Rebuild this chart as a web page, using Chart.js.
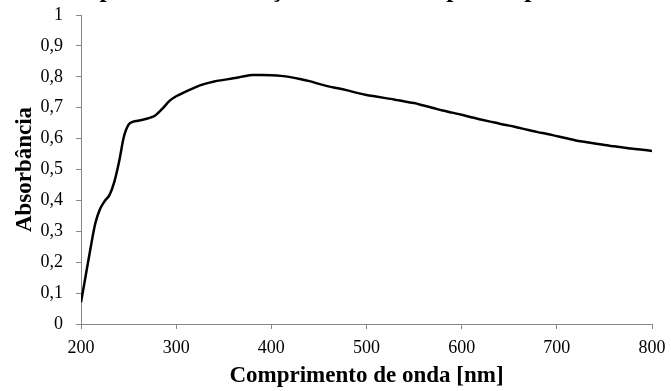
<!DOCTYPE html>
<html>
<head>
<meta charset="utf-8">
<script src="https://cdn.jsdelivr.net/npm/chart.js@4/dist/chart.umd.min.js"></script>
<style>
  html, body { margin: 0; padding: 0; background: #fff; }
  #wrap { width: 671px; height: 391px; }
</style>
</head>
<body>
<div id="wrap"><canvas id="absChart" width="671" height="391"></canvas></div>
<script>
/* ── DATA ────────────────────────────────────────────────── */
const wavelengths = [
  200, 204, 210, 215, 220, 225, 230, 235, 240, 245, 250, 255, 260, 270, 278,
  285, 293, 300, 310, 320, 330, 340, 350, 360, 370, 380, 390, 400, 410, 420,
  430, 440, 450, 460, 470, 480, 490, 500, 510, 520, 530, 540, 550, 560, 570,
  580, 590, 600, 610, 620, 630, 640, 650, 660, 670, 680, 690, 700, 710, 720,
  730, 740, 750, 760, 770, 780, 790, 800
];
const absorbance = [
  0.070, 0.140, 0.245, 0.325, 0.372, 0.398, 0.418, 0.460, 0.525, 0.605, 0.645, 0.655, 0.658, 0.665, 0.675,
  0.695, 0.722, 0.737, 0.752, 0.766, 0.777, 0.785, 0.790, 0.795, 0.801, 0.806, 0.806, 0.805, 0.803, 0.799,
  0.793, 0.786, 0.777, 0.769, 0.763, 0.756, 0.748, 0.741, 0.736, 0.731, 0.726, 0.720, 0.715, 0.707, 0.699,
  0.691, 0.684, 0.677, 0.669, 0.662, 0.655, 0.648, 0.642, 0.635, 0.628, 0.621, 0.615, 0.608, 0.601, 0.594,
  0.589, 0.584, 0.579, 0.575, 0.571, 0.567, 0.564, 0.560
];
const xTickLabels = ["200", "300", "400", "500", "600", "700", "800"];
const yTickLabels = ["0", "0,1", "0,2", "0,3", "0,4", "0,5", "0,6", "0,7", "0,8", "0,9", "1"];

const chartTitle = "Espectro de absorção da amostra para o pó";
const xTitle = "Comprimento de onda [nm]";
const yTitle = "Absorbância";

/* ── STYLE ───────────────────────────────────────────────── */
const SERIF = "'Liberation Serif', 'Times New Roman', serif";
const AXIS_GREY = "#878787";

// title sits above the canvas edge, only its descenders show
const topTitle = {
  id: "topTitle",
  afterDraw(chart) {
    const ctx = chart.ctx;
    ctx.save();
    ctx.font = `bold 26px ${SERIF}`;
    ctx.fillStyle = "#000";
    ctx.textAlign = "left";
    ctx.textBaseline = "alphabetic";
    ctx.fillText(chartTitle, 72, -3.5);
    ctx.restore();
  }
};

const axisCommon = {
  border: { display: true, color: AXIS_GREY, width: 1 },
  grid: { display: true, drawOnChartArea: false, drawTicks: true, tickLength: 5, color: AXIS_GREY, lineWidth: 1 }
};

/* ── CHART ───────────────────────────────────────────────── */
new Chart(document.getElementById("absChart"), {
  type: "line",
  data: {
    datasets: [{
      data: wavelengths.map((w, i) => ({ x: w, y: absorbance[i] })),
      borderColor: "#000",
      borderWidth: 2.5,
      pointRadius: 0,
      cubicInterpolationMode: "monotone",
      fill: false
    }]
  },
  options: {
    responsive: false,
    animation: false,
    layout: { padding: { top: 15, right: 19, left: 0, bottom: 0 } },
    plugins: { legend: { display: false }, tooltip: { enabled: false }, title: { display: false } },
    scales: {
      x: {
        ...axisCommon,
        type: "linear",
        min: 200, max: 800,
        ticks: {
          stepSize: 100, color: "#000", padding: 8,
          font: { family: SERIF, size: 18 },
          callback: (v, i) => xTickLabels[i]
        },
        title: {
          display: true, text: xTitle, color: "#000",
          font: { family: SERIF, size: 23, weight: "bold" },
          padding: { top: 0, bottom: 1 }
        },
        afterFit: s => { s.height = 67; s.paddingLeft = 0; s.paddingRight = 0; }
      },
      y: {
        ...axisCommon,
        min: 0, max: 1,
        ticks: {
          stepSize: 0.1, color: "#000", padding: 13,
          font: { family: SERIF, size: 18 },
          callback: (v, i) => yTickLabels[i]
        },
        title: {
          display: true, text: yTitle, color: "#000",
          font: { family: SERIF, size: 23, weight: "bold" },
          padding: { top: 11, bottom: 0 }
        },
        afterFit: s => { s.width = 81; s.paddingTop = 0; s.paddingBottom = 0; }
      }
    }
  },
  plugins: [topTitle]
});
</script>
</body>
</html>
